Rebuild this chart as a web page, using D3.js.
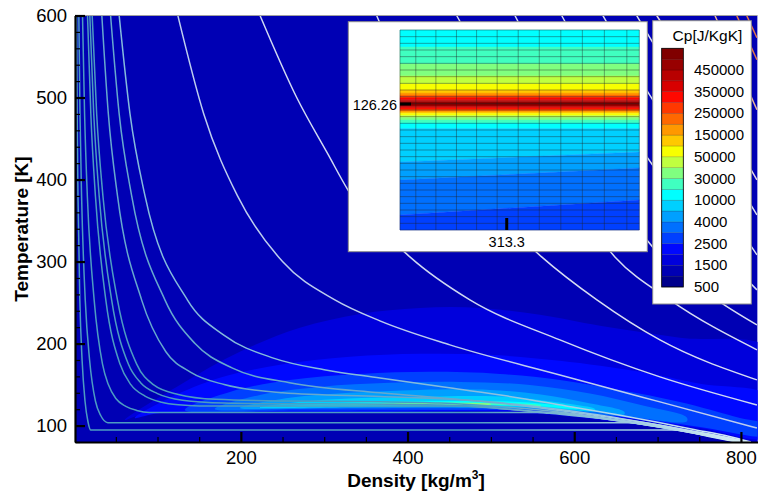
<!DOCTYPE html>
<html>
<head>
<meta charset="utf-8">
<script src="https://cdnjs.cloudflare.com/ajax/libs/d3/7.8.5/d3.min.js"></script>
<style>
  body { margin: 0; background: #fff; }
  svg { display: block; font-family: "Liberation Sans", Arial, sans-serif; }
</style>
</head>
<body>
<svg id="chart" width="758" height="496"></svg>
<script>
// ---- colour levels of Cp (colour bar) ----
var levels = [500, 1000, 1500, 2000, 2500, 3000, 4000, 7000, 10000, 20000, 30000, 40000,
              50000, 100000, 150000, 200000, 250000, 300000, 350000, 400000, 450000, 500000, 550000];
var levelLabels = [500, 1500, 2500, 4000, 10000, 30000, 50000, 150000, 250000, 350000, 450000];
var bandColors = ["#00008c", "#0000b4", "#0000dc", "#0008ff", "#0040ff", "#0070ff", "#00a0ff", "#00d0ff",
                  "#00ffff", "#40ffc0", "#80ff80", "#c0ff40", "#f8ff00", "#ffc800", "#ff9800", "#ff6800",
                  "#ff3800", "#ff0800", "#d80000", "#b80000", "#980000", "#800000"];

// ---- axes ----
var xTicks = [200, 400, 600, 800];
var yTicks = [100, 200, 300, 400, 500, 600];

// ---- Cp bands in the main plot, [density, T] outlines ----
var dome2 = [[60.8,106.9],[126.8,149.6],[198.8,189.9],[270.8,219.2],[342.8,236.2],[414.8,243.5],[486.8,243.5],
  [558.8,235],[630.8,221.6],[726.8,207],[835,193],[835,82],[750.8,91],[630.8,106.9],[534.8,115.4],[88.4,115.4]];
var dome3 = [[72.8,109.4],[114.8,133.8],[174.8,158.2],[246.8,174.1],[330.8,183.8],[414.8,187.5],[498.8,186.3],
  [582.8,179],[678.8,165.5],[750.8,150.9],[835,135],[835,86],[750.8,97.1],[678.8,106.9],[606.8,114.2],
  [534.8,117.9],[450.8,117.3],[270.8,116.1],[102.8,115.4]];
var dome4 = [[132.8,119.1],[186.8,141.1],[258.8,155.7],[342.8,163],[426.8,165.5],[510.8,163],[582.8,155.7],
  [654.8,143.5],[726.8,128.9],[798.8,109.4],[835,100],[835,88],[750.8,98.4],[678.8,108.2],[606.8,115.4],
  [534.8,119.1],[450.8,119.1],[270.8,118.5]];
var dome5 = [[168.8,120.3],[222.8,137.4],[294.8,147.2],[378.8,152.1],[462.8,153.3],[546.8,149.6],[618.8,139],
  [680,125],[735,110],[735,105],[666.8,110.6],[594.8,116.7],[522.8,120.3],[438.8,121],[270.8,120.3]];
var dome6 = [[198.8,121.6],[258.8,133.8],[330.8,139.9],[414.8,143.5],[498.8,143.5],[560,138],[615,128],
  [660,117],[660,113.5],[618.8,117.9],[546.8,121],[462.8,122.2],[306.8,121.6]];
var dome7 = [[222.8,122.2],[282.8,130.1],[354.8,133.8],[438.8,135.6],[522.8,135],[575,129],[625,120],
  [625,118],[558.8,122.2],[474.8,123.4],[330.8,122.8]];
var dome8 = [[258.8,124],[318.8,127.7],[390.8,129.5],[462.8,130.1],[534.8,128.9],[575,125.5],[605,121.5],
  [605,120.5],[560,123.3],[510.8,124.6],[414.8,124.6],[318.8,124]];
var dome9 = [[318.8,125.2],[390.8,127.7],[462.8,128.3],[522.8,127.1],[560,124.5],[560,123.5],[510.8,125.2],[414.8,125.2]];
var dome10 = [[366.8,126.2],[438.8,127.1],[500,126.5],[500,125.7],[438.8,125.8]];
var mainBands = [[2, dome2], [3, dome3], [4, dome4], [5, dome5], [6, dome6], [7, dome7], [8, dome8], [9, dome9], [10, dome10]];

// ---- isobars, [density, T] ----
var isoA = [[2.9,600],[3.6,480],[4.6,380],[6.8,253],[9.5,180],[13,130],[16.5,105],[20,94.5],[722,94.5],[760,87],[795,80]];
var isoB = [[5.6,600],[7,480],[8.9,380],[13.3,253],[18.5,180],[25.5,130],[32,112],[40.4,103.6],[668,103.6],[691,100],[747,90],[797,80]];
var isoC = [[10,600],[12.5,480],[15.8,380],[24,253],[34,175],[41,150],[50,133],[62,123.5],[75,118.5],[90,116],
  [575,116],[625,110],[693,100],[749,90],[799,80]];
var isoD = [[16,600],[20,480],[25.5,380],[38,253],[55,175],[68,150],[85,136],[105,128.5],[125,125.3],[150,124],
  [470,124],[520,120],[570,115],[625,109.5],[694,99.5],[751,89.5],[801,80]];
var isoE = [[18.8,600],[23.5,480],[30,380],[45,253],[65,175],[80,152],[100,139],[130,131],[180,127.5],[250,126.6],
  [313,126.3],[380,126],[440,125],[490,122.5],[540,118.5],[600,113],[660,105],[720,95.5],[770,86.5],[803,80]];
var isoF = [[21.6,600],[27,480],[34.5,380],[52,253],[75,175],[95,150],[125,138],[170,132],[250,130],[367,129.2],
  [440,127.5],[500,124],[550,120],[600,114.5],[660,106],[720,96],[772,87],[805,80]];
var isoG = [[33.2,600],[41,480],[52,380],[81,253],[110,190],[140,165],[180,150],[250,140],[367,135.4],[450,132],
  [520,127],[580,120],[630,113],[680,104.5],[730,95.5],[775,87],[807,80]];
var isoH = [[43.7,600],[54,480],[69,380],[109,253],[145,200],[190,170],[260,152],[367,140],[460,132],[540,124],
  [600,116],[650,109],[700,101],[745,92.5],[780,86],[809,80]];
var isoI = [[54,600],[67,480],[85,380],[136,253],[180,210],[240,182],[300,168],[367,158],[450,146],[520,136],
  [590,124],[650,113.5],[700,104],[745,95],[785,87],[812,80]];
var isoJ = [[124.4,600],[155.5,480],[196,380],[250,300],[312.8,253.3],[366.8,227.7],[450.8,198.4],[582.8,161.8],
  [702.8,128.9],[819.2,97.1]];
var isoK = [[223,600],[267,500],[305,430],[328.4,387.4],[402.8,305.7],[474.8,253.3],[582.8,204.5],[702.8,159.4],[819.2,125.2]];
var isoL3 = [[362.9,600],[414.8,485],[486.8,381.3],[560.9,305.7],[627.2,253.3],[702.8,204.5],[819.2,155.7]];
var isoL4 = [[458.9,600],[510.8,509.4],[582.8,399.6],[648.8,305.7],[714.7,253.3],[819.2,192.4]];
var isoL5 = [[528.8,600],[582.8,496.5],[636.8,405],[686.9,326.5],[771.2,253.3],[819.2,222.8]];
var isoL6 = [[584.9,600],[642.8,496.5],[702.8,405],[762.8,326.5],[819.2,265.5]];
var isoL7 = [[634.4,600],[690.8,502.6],[750.8,411.1],[819.2,308.2]];
var isoL8 = [[674.9,600],[738.8,491.1],[819.2,357]];
var isoL9 = [[698.9,600],[762.8,497.2],[819.2,399.6]];
var isoL10 = [[768.8,600],[819.2,485.1]];
var isoL11 = [[794.9,600],[819.2,546]];
var isoL12 = [[806.9,600],[819.2,572.8]];
var isobars = [isoA, isoB, isoC, isoD, isoE, isoF, isoG, isoH, isoI, isoJ, isoK,
               isoL3, isoL4, isoL5, isoL6, isoL7, isoL8, isoL9, isoL10, isoL11, isoL12];

// ---- inset (zoom around the critical point) ----
var insetRho = [291, 341];
var insetT = [123.74, 127.74];
var insetMeshRho = [294.3, 298.5, 302.8, 307, 311.3, 315.7, 320.1, 324.6, 329.1, 333.7, 338.4];
var insetBand = [8, 9, 10, 11, 12, 13, 14, 15, 16, 17, 18, 19, 20, 21, 20, 19, 18, 17, 16, 15, 14, 13, 12, 11, 10, 9, 8, 7, 6, 5, 4];
var insetLowLeft = [127.40, 127.06, 126.82, 126.66, 126.54, 126.48, 126.44, 126.41, 126.38, 126.354, 126.33, 126.306,
  126.282, 126.238, 126.216, 126.196, 126.178, 126.16, 126.14, 126.12, 126.10, 126.07, 126.03, 125.99, 125.94,
  125.88, 125.77, 125.10, 124.74, 124.04, 123.74];
var insetLowRight = [127.40, 127.06, 126.82, 126.66, 126.54, 126.48, 126.44, 126.41, 126.38, 126.354, 126.33, 126.306,
  126.282, 126.238, 126.216, 126.196, 126.178, 126.16, 126.14, 126.12, 126.10, 126.07, 126.03, 125.99, 125.94,
  125.88, 125.77, 125.30, 124.98, 124.34, 123.74];
var critT = 126.26, critRho = 313.3;

// ================= drawing =================
var svg = d3.select("#chart");
var x = d3.scaleLinear().domain([1, 820]).range([75, 757.6]);
var y = d3.scaleLinear().domain([80, 600]).range([442, 15.5]);

var defs = svg.append("defs");
defs.append("clipPath").attr("id", "plotclip").append("rect")
  .attr("x", 75).attr("y", 15.5).attr("width", 682.6).attr("height", 426.5);

// fade of the liquid branches to light
function fadeGrad(id, c) {
  var g = defs.append("linearGradient").attr("id", id).attr("gradientUnits", "userSpaceOnUse")
    .attr("x1", x(470)).attr("x2", x(800)).attr("y1", 0).attr("y2", 0);
  g.append("stop").attr("offset", 0).attr("stop-color", c);
  g.append("stop").attr("offset", 1).attr("stop-color", "#d4ecf6");
  return "url(#" + id + ")";
}

var plot = svg.append("g").attr("clip-path", "url(#plotclip)");
plot.append("rect").attr("x", 75).attr("y", 15.5).attr("width", 682.6).attr("height", 426.5)
  .attr("fill", bandColors[1]);

var band = d3.line().x(function(d) { return x(d[0]); }).y(function(d) { return y(d[1]); })
  .curve(d3.curveCatmullRomClosed.alpha(0.5));
plot.selectAll("path.band").data(mainBands).enter().append("path")
  .attr("class", "band")
  .attr("d", function(d) { return band(d[1]); })
  .attr("fill", function(d) { return bandColors[d[0]]; });

var iso = d3.line().x(function(d) { return x(d[0]); }).y(function(d) { return y(d[1]); })
  .curve(d3.curveMonotoneX);
var teal = fadeGrad("g1", "#4c9bc2"), teal2 = fadeGrad("g2", "#66a8ce"), teal3 = fadeGrad("g3", "#84bbdc");
var isoColors = [teal, teal, teal, teal, teal, teal, teal2, teal2, teal3, "#bccdee", "#cfd9f2",
  "#d6dcf2", "#d6dcf2", "#d6dcf2", "#d6dcf2", "#d6dcf2", "#d8dcf0", "#e4d4e0", "#ecb898", "#e47a48", "#e47a48"];
plot.selectAll("path.iso").data(isobars).enter().append("path")
  .attr("class", "iso")
  .attr("d", iso)
  .attr("fill", "none")
  .attr("stroke", function(d, i) { return isoColors[i]; })
  .attr("stroke-width", 1.5);

// top frame
svg.append("line").attr("x1", 75).attr("x2", 757.6).attr("y1", 15.5).attr("y2", 15.5)
  .attr("stroke", "#a0a0a0").attr("stroke-width", 1);

// axes
var gx = svg.append("g").attr("transform", "translate(0,442)")
  .call(d3.axisBottom(x).tickValues(xTicks).tickSizeInner(-10).tickSizeOuter(0).tickPadding(9));
var gxm = svg.append("g").attr("transform", "translate(0,442)")
  .call(d3.axisBottom(x).tickValues(d3.range(50, 820, 50).filter(function(v) { return v % 200; }))
    .tickSizeInner(-5).tickSizeOuter(0).tickFormat(""));
var gy = svg.append("g").attr("transform", "translate(75,0)")
  .call(d3.axisLeft(y).tickValues(yTicks).tickSizeInner(-10).tickSizeOuter(0).tickPadding(8));
var gym = svg.append("g").attr("transform", "translate(75,0)")
  .call(d3.axisLeft(y).tickValues(d3.range(80, 600, 20).filter(function(v) { return v % 100; }))
    .tickSizeInner(-5).tickSizeOuter(0).tickFormat(""));
[gxm, gym].forEach(function(g) { g.select(".domain").remove(); g.selectAll(".tick line").attr("stroke-width", 1.2); });
[gx, gy].forEach(function(g) {
  g.select(".domain").attr("stroke-width", 2.2);
  g.selectAll(".tick line").attr("stroke-width", 2.2);
  g.selectAll(".tick text").attr("font-size", 18.5).attr("font-family", "Liberation Sans, Arial, sans-serif").attr("fill", "#000");
});

svg.append("text").attr("transform", "translate(28,229) rotate(-90)")
  .attr("text-anchor", "middle").attr("font-size", 19).attr("font-weight", "bold")
  .text("Temperature [K]");
var xt = svg.append("text").attr("x", 416).attr("y", 487)
  .attr("text-anchor", "middle").attr("font-size", 19).attr("font-weight", "bold");
xt.append("tspan").text("Density [kg/m");
xt.append("tspan").attr("font-size", 12).attr("dy", -8).text("3");
xt.append("tspan").attr("dy", 8).text("]");

// ---- inset ----
var inset = svg.append("g");
inset.append("rect").attr("x", 348.3).attr("y", 21.7).attr("width", 299).attr("height", 230)
  .attr("fill", "#fff").attr("stroke", "#8c8c8c");
var ix = d3.scaleLinear().domain(insetRho).range([400, 639.3]);
var iy = d3.scaleLinear().domain(insetT).range([230, 30]);
inset.selectAll("path.ib").data(insetBand).enter().append("path")
  .attr("class", "ib")
  .attr("d", function(b, i) {
    var upL = i ? insetLowLeft[i - 1] : insetT[1], upR = i ? insetLowRight[i - 1] : insetT[1];
    return "M" + ix(insetRho[0]) + "," + iy(upL) + "L" + ix(insetRho[1]) + "," + iy(upR) +
      "L" + ix(insetRho[1]) + "," + iy(insetLowRight[i]) + "L" + ix(insetRho[0]) + "," + iy(insetLowLeft[i]) + "Z";
  })
  .attr("fill", function(b) { return bandColors[b]; })
  .attr("stroke", function(b) { return bandColors[b]; }).attr("stroke-width", 0.4);

var meshRows = d3.range(0, 31).map(function(i) { return insetT[0] + i * (insetT[1] - insetT[0]) / 30; });
inset.selectAll("line.mr").data(meshRows).enter().append("line")
  .attr("x1", ix(insetRho[0])).attr("x2", ix(insetRho[1]))
  .attr("y1", function(d) { return iy(d); }).attr("y2", function(d) { return iy(d); })
  .attr("stroke", "#202020").attr("stroke-opacity", 0.5).attr("stroke-width", 0.8);
inset.selectAll("line.mc").data([insetRho[0]].concat(insetMeshRho, [insetRho[1]])).enter().append("line")
  .attr("y1", iy(insetT[0])).attr("y2", iy(insetT[1]))
  .attr("x1", function(d) { return ix(d); }).attr("x2", function(d) { return ix(d); })
  .attr("stroke", "#202020").attr("stroke-opacity", 0.5).attr("stroke-width", 0.8);
inset.append("line").attr("x1", ix(insetRho[0])).attr("x2", ix(insetRho[0]) + 11)
  .attr("y1", iy(critT)).attr("y2", iy(critT)).attr("stroke", "#000").attr("stroke-width", 3);
inset.append("line").attr("x1", ix(critRho)).attr("x2", ix(critRho))
  .attr("y1", iy(insetT[0])).attr("y2", iy(insetT[0]) - 12).attr("stroke", "#000").attr("stroke-width", 3);
inset.append("text").attr("x", 397).attr("y", iy(critT) + 5.5).attr("text-anchor", "end")
  .attr("font-size", 14.5).text(d3.format(".2f")(critT));
inset.append("text").attr("x", ix(critRho)).attr("y", 247).attr("text-anchor", "middle")
  .attr("font-size", 14.5).text(critRho);

// ---- colour bar legend ----
var leg = svg.append("g");
leg.append("rect").attr("x", 652.7).attr("y", 20.7).attr("width", 98.6).attr("height", 283.3)
  .attr("fill", "#fff").attr("stroke", "#8c8c8c");
leg.append("text").attr("x", 707.5).attr("y", 41).attr("text-anchor", "middle")
  .attr("font-size", 15.5).text("Cp[J/KgK]");
var cy = d3.scaleLinear().domain([0, levels.length - 1]).range([287, 48.3]);
leg.selectAll("rect.cb").data(bandColors).enter().append("rect")
  .attr("class", "cb")
  .attr("x", 661.7).attr("width", 21.6)
  .attr("y", function(d, i) { return cy(i + 1); })
  .attr("height", function(d, i) { return cy(i) - cy(i + 1); })
  .attr("fill", function(d) { return d; })
  .attr("stroke", "#000").attr("stroke-opacity", 0.25).attr("stroke-width", 0.6);
leg.append("rect").attr("x", 661.7).attr("y", 48.3).attr("width", 21.6).attr("height", 238.7)
  .attr("fill", "none").attr("stroke", "#000").attr("stroke-width", 0.8);
leg.selectAll("text.cl").data(levelLabels).enter().append("text")
  .attr("class", "cl")
  .attr("x", 694)
  .attr("y", function(d) { return cy(levels.indexOf(d)) + 5; })
  .attr("font-size", 15).text(function(d) { return d; });
</script>
</body>
</html>
